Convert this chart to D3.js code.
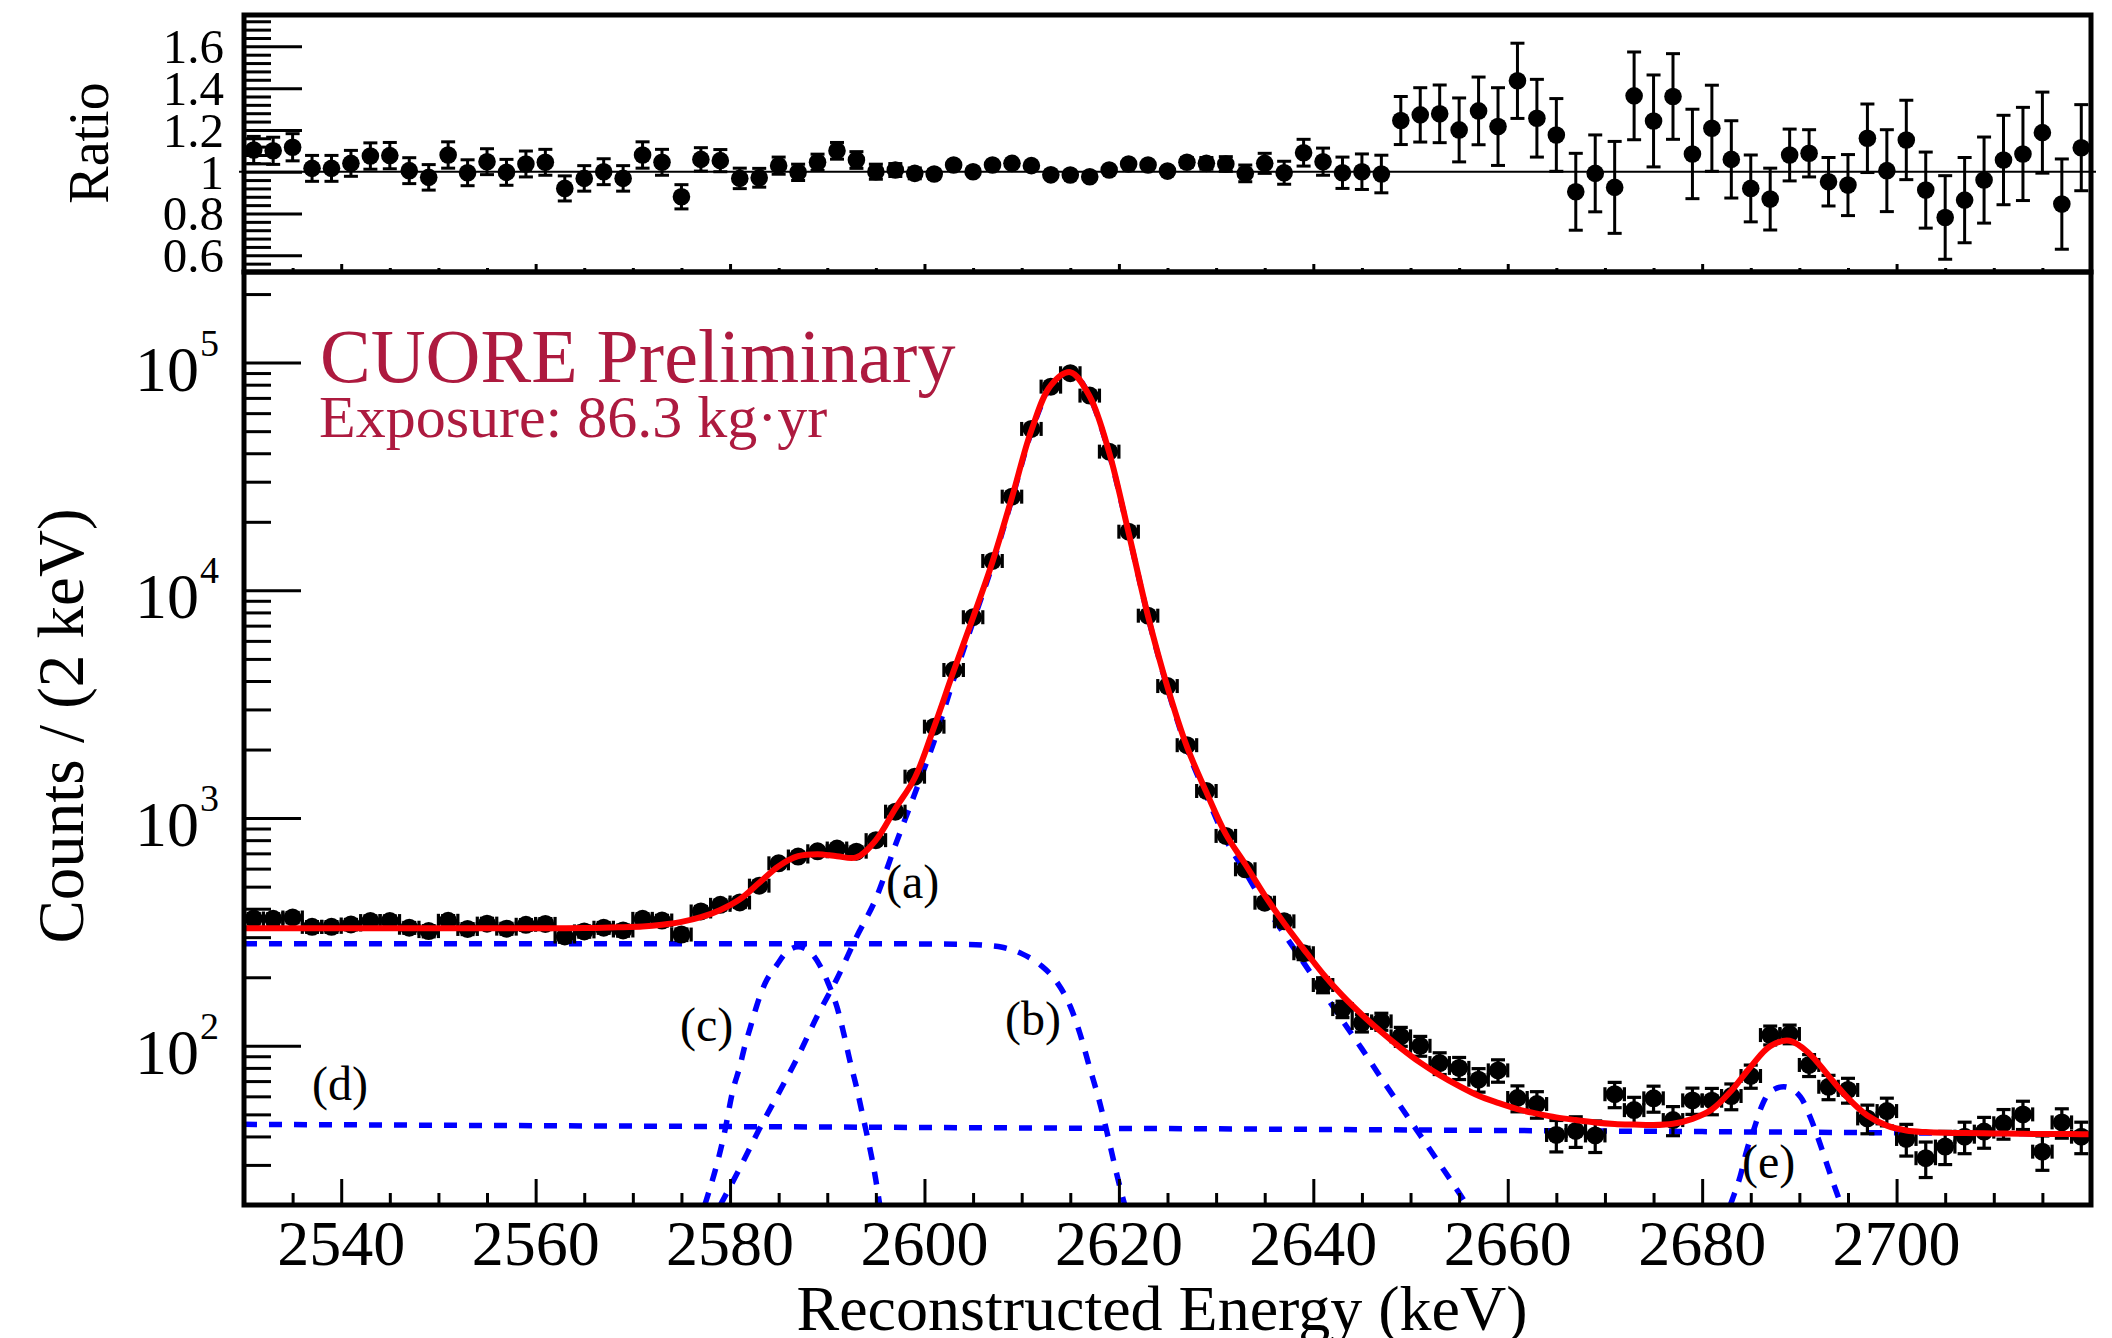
<!DOCTYPE html>
<html><head><meta charset="utf-8">
<script src="https://cdn.jsdelivr.net/npm/d3@7"></script>
<style>body{margin:0;background:#fff;} svg{display:block;} text{font-family:'Liberation Serif','Times New Roman',serif;}</style>
</head><body><svg id="c" width="2112" height="1338"></svg>
<script>
// ---------- DATA ----------
const bins = [2531,2533,2535,2537,2539,2541,2543,2545,2547,2549,2551,2553,2555,2557,2559,2561,2563,2565,2567,2569,2571,2573,2575,2577,2579,2581,2583,2585,2587,2589,2591,2593,2595,2597,2599,2601,2603,2605,2607,2609,2611,2613,2615,2617,2619,2621,2623,2625,2627,2629,2631,2633,2635,2637,2639,2641,2643,2645,2647,2649,2651,2653,2655,2657,2659,2661,2663,2665,2667,2669,2671,2673,2675,2677,2679,2681,2683,2685,2687,2689,2691,2693,2695,2697,2699,2701,2703,2705,2707,2709,2711,2713,2715,2717,2719];
const counts = [362,361,366,333,333,341,353,353,330,319,
354,326,344,327,340,343,302,318,330,321,
361,355,308,389,416,426,505,633,678,715,
735,712,800,1067,1520,2520,4470,7620,13460,25790,
51150,78450,89830,71640,40660,18100,7740,3800,2090,1315,
835,596,425,352,255,185,145,126,128,110,
100,84,80,71,78,59,55.5,40.6,42.3,40.4,
61.3,52.2,58.8,47.2,57.6,57.4,60.2,73.7,111.5,112.7,
82.4,66.1,64.0,48.0,51.7,39.0,32.1,36.1,39.9,42.0,
45.7,50.0,34.3,46.1,39.9];
const countErr = [19,19,19,18,18,18,19,19,18,18,
19,18,19,18,18,19,17,18,18,18,
19,19,18,20,20,21,22,25,26,27,
27,27,28,33,39,50,67,87,116,161,
226,280,300,268,202,135,88,62,46,36,
29,24,21,19,16,14,12,11,11,10.5,
10,9.2,8.9,8.4,8.8,7.7,7.4,6.4,6.5,6.4,
7.8,7.2,7.7,6.9,7.6,7.6,7.8,8.6,10.6,10.6,
9.1,8.1,8,6.9,7.2,6.2,5.7,6,6.3,6.5,
6.8,7.1,5.9,6.8,6.3];
const ratio = [1.104,1.10,1.117,1.016,1.016,1.04,1.075,1.077,1.005,0.973,
1.08,0.995,1.048,0.997,1.037,1.045,0.92,0.968,1.0,0.968,
1.08,1.045,0.88,1.059,1.053,0.968,0.971,1.029,0.997,1.045,
1.10,1.056,1.0,1.008,0.992,0.989,1.032,1.0,1.032,1.04,
1.029,0.985,0.984,0.976,1.008,1.037,1.032,1.003,1.045,1.04,
1.037,0.992,1.04,0.995,1.091,1.048,0.995,1.0,0.989,1.245,
1.272,1.277,1.20,1.291,1.216,1.435,1.256,1.176,0.904,0.992,
0.925,1.363,1.243,1.36,1.085,1.208,1.059,0.92,0.869,1.08,
1.088,0.952,0.936,1.16,1.005,1.152,0.912,0.781,0.864,0.96,
1.056,1.085,1.187,0.845,1.115];
const ratioErr = [0.065,0.065,0.065,0.062,0.062,0.062,0.063,0.063,0.062,0.061,
0.063,0.062,0.062,0.062,0.062,0.062,0.06,0.061,0.062,0.061,
0.063,0.062,0.058,0.056,0.053,0.049,0.045,0.041,0.039,0.039,
0.04,0.04,0.036,0.031,0.026,0.02,0.015,0.012,0.009,0.006,
0.005,0.004,0.003,0.004,0.005,0.007,0.011,0.016,0.022,0.028,
0.035,0.04,0.048,0.055,0.064,0.065,0.075,0.085,0.09,0.115,
0.13,0.138,0.153,0.162,0.186,0.18,0.186,0.174,0.184,0.184,
0.22,0.21,0.22,0.205,0.214,0.206,0.185,0.16,0.148,0.124,
0.113,0.116,0.146,0.164,0.196,0.19,0.182,0.2,0.204,0.206,
0.214,0.223,0.194,0.216,0.206];
// total fit (red) at the bin centres, plus the two range edges
const fitEdgeE = [2530, 2720];
const fitEdgeV = [328, 40.9];
const fitValues = [328,328,328,328,328,328,328,328,328,328,
328,328,328,328,328,328,328,329,330,332,
334,340,350,367,395,440,520,615,680,694,
680,672,800,1100,1500,2520,4420,7600,13350,25600,
50500,79500,90800,71000,40300,17900,7700,3760,2060,1300,
850,627,458,345,266,207,166,137,115,97.8,
84.4,74.4,66.6,60.4,56.2,52.7,50.4,48.5,47.2,46.1,
45.4,45.1,44.9,45.5,47.8,52.5,63.5,81,99.7,105.2,
92.6,73.8,58.9,49.4,44.6,42.5,41.8,41.5,41.4,41.3,
41.2,41.1,41.0,41.0,40.9];
// fit components (blue dashed)
const compA_E = [2579,2581,2583,2585,2587,2589,2591,2593,2595,2597,2599,2601,2603,2605,2607,2609,2611,2613,2615,2617,2619,2621,2623,2625,2627,2629,2631,2633,2635,2637,2639,2641,2643,2645,2647,2649,2651,2653,2655,2655.8];
const compA_V = [20,29,43,62,90,136,197,300,443,760,1280,2180,4060,7280,12990,25200,49700,78700,90300,70900,39900,17800,7650,3710,2010,1255,805,580,415,310,232,173,129,97,72,54,40.5,30.3,22.6,20];
const compB_E = [2530,2560,2590,2600,2604,2606,2608,2610,2612,2613.6,2615,2616,2617,2618,2619,2620,2620.6];
const compB_V = [281,281,281,280,279,277,271,254,225,191,149,113,80,57,38,25,20];
const compC_E = [2577.4,2579.4,2580.3,2581,2581.5,2582.1,2582.7,2583.6,2584.8,2585.8,2587,2588.2,2589.3,2590.1,2591,2591.7,2592.3,2593,2593.6,2595,2595.4];
const compC_V = [20,41,64,81,99,121,148,188,226,258,272,259,223,188,148,113,87,66,50.5,25.7,20];
const compD_E = [2530,2580,2630,2680,2720];
const compD_V = [45.2,44.2,43.2,42.0,41.0];
const compE_E = [2682.9,2683.2,2683.9,2684.6,2685.3,2686.1,2687.0,2688.4,2690.1,2691.1,2692.0,2692.8,2693.5,2694.0,2694.3];
const compE_V = [20,21.7,26.6,34.9,42.7,54.0,62.9,66.1,59.8,48.8,38.5,30.5,24.9,21.7,20];
// ticks / labels
const energyTicks = [2540,2560,2580,2600,2620,2640,2660,2680,2700];
const ratioTicks = [0.6,0.8,1,1.2,1.4,1.6];
const ratioTickLabels = ["0.6","0.8","1","1.2","1.4","1.6"];
const countTicks = [100,1000,10000,100000];
const countTickExp = ["2","3","4","5"];
const compNames = ["(a)","(b)","(c)","(d)","(e)"];

// ---------- LAYOUT ----------
const L=244, R=2091, T1=15, B1=272, T2=272, B2=1205;
const svg = d3.select("#c");
svg.append("rect").attr("width",2112).attr("height",1338).attr("fill","#fff");
const x  = d3.scaleLinear().domain([2530,2720]).range([L,R]);
const yR = d3.scaleLinear().domain([0.52,1.75]).range([B1,T1]);
const yC = d3.scaleLog().domain([20,2.5e5]).range([B2,T2]);

const defs = svg.append("defs");
defs.append("clipPath").attr("id","clip1").append("rect").attr("x",L).attr("y",T1).attr("width",R-L).attr("height",B1-T1);
defs.append("clipPath").attr("id","clip2").append("rect").attr("x",L).attr("y",T2).attr("width",R-L).attr("height",B2-T2);

// ---------- TOP PANEL (ratio) ----------
const g1 = svg.append("g");
g1.append("line").attr("x1",239).attr("x2",2096).attr("y1",yR(1)).attr("y2",yR(1))
  .attr("stroke","#000").attr("stroke-width",2);
const g1c = g1.append("g").attr("clip-path","url(#clip1)");
bins.forEach((E,i)=>{
  const cx=x(E), cy=yR(ratio[i]);
  const yt=yR(ratio[i]+ratioErr[i]), yb=yR(ratio[i]-ratioErr[i]);
  const p = g1c.append("g").attr("stroke","#000").attr("stroke-width",3);
  p.append("line").attr("x1",cx).attr("x2",cx).attr("y1",yt).attr("y2",yb);
  p.append("line").attr("x1",cx-7).attr("x2",cx+7).attr("y1",yt).attr("y2",yt);
  p.append("line").attr("x1",cx-7).attr("x2",cx+7).attr("y1",yb).attr("y2",yb);
  g1c.append("ellipse").attr("cx",cx).attr("cy",cy).attr("rx",8.8).attr("ry",8.8).attr("fill","#000");
});

// ---------- BOTTOM PANEL (counts) ----------
const g2 = svg.append("g").attr("clip-path","url(#clip2)");
const line = d3.line().x(d=>x(d[0])).y(d=>yC(d[1])).curve(d3.curveMonotoneX);
const comps = [[compA_E,compA_V],[compB_E,compB_V],[compC_E,compC_V],[compD_E,compD_V],[compE_E,compE_V]];
comps.forEach(([E,V],k)=>{
  const pts = E.map((e,i)=>[e,V[i]]);
  g2.append("path").attr("d", k===3 ? d3.line().x(d=>x(d[0])).y(d=>yC(d[1]))(pts) : line(pts))
    .attr("fill","none").attr("stroke","#0000ff").attr("stroke-width",5.5)
    .attr("stroke-dasharray","13 12");
});
bins.forEach((E,i)=>{
  const cx=x(E), cy=yC(counts[i]);
  const yt=yC(counts[i]+countErr[i]), yb=yC(counts[i]-countErr[i]);
  const xl=x(E-1), xr=x(E+1);
  const p = g2.append("g").attr("stroke","#000").attr("stroke-width",3.2);
  p.append("line").attr("x1",cx).attr("x2",cx).attr("y1",yt).attr("y2",yb);
  p.append("line").attr("x1",cx-7).attr("x2",cx+7).attr("y1",yt).attr("y2",yt);
  p.append("line").attr("x1",cx-7).attr("x2",cx+7).attr("y1",yb).attr("y2",yb);
  p.append("line").attr("x1",xl).attr("x2",xr).attr("y1",cy).attr("y2",cy);
  p.append("line").attr("x1",xl).attr("x2",xl).attr("y1",cy-7).attr("y2",cy+7);
  p.append("line").attr("x1",xr).attr("x2",xr).attr("y1",cy-7).attr("y2",cy+7);
  g2.append("circle").attr("cx",cx).attr("cy",cy).attr("r",9).attr("fill","#000");
});
const fitPts = [[fitEdgeE[0],fitEdgeV[0]]].concat(bins.map((e,i)=>[e,fitValues[i]])).concat([[fitEdgeE[1],fitEdgeV[1]]]);
const fitLine = d3.line().x(d=>x(d[0])).y(d=>yC(d[1])).curve(d3.curveCatmullRom.alpha(0.5));
g2.append("path").attr("d",fitLine(fitPts)).attr("fill","none").attr("stroke","#ff0000").attr("stroke-width",6);

// component labels
const labelPos = [[886,898],[1005,1035],[680,1041],[312,1100],[1742,1178]];
compNames.forEach((t,i)=>{
  svg.append("text").attr("x",labelPos[i][0]).attr("y",labelPos[i][1]).attr("font-size",48).attr("fill","#000").text(t);
});

// CUORE text
svg.append("text").attr("x",320).attr("y",382).attr("font-size",76).attr("fill","#ad1a3f").text("CUORE Preliminary");
svg.append("text").attr("x",319).attr("y",437).attr("font-size",60).attr("fill","#ad1a3f").text("Exposure: 86.3 kg\u00b7yr");

// ---------- AXES ----------
function styleAxis(g){ g.select(".domain").remove(); g.selectAll(".tick line").attr("stroke","#000").attr("stroke-width",3); g.selectAll(".tick text").remove(); }
const minorE = d3.range(2535,2720,5).filter(v=>v%20!==0);
// bottom x axis
svg.append("g").attr("transform",`translate(0,${B2})`).call(d3.axisBottom(x).tickValues(energyTicks).tickSize(-26).tickFormat("")).call(styleAxis);
svg.append("g").attr("transform",`translate(0,${B2})`).call(d3.axisBottom(x).tickValues(minorE).tickSize(-12).tickFormat("")).call(styleAxis);
// top panel x axis (no labels)
svg.append("g").attr("transform",`translate(0,${B1})`).call(d3.axisBottom(x).tickValues(energyTicks).tickSize(-8).tickFormat("")).call(styleAxis);
svg.append("g").attr("transform",`translate(0,${B1})`).call(d3.axisBottom(x).tickValues(minorE).tickSize(-4).tickFormat("")).call(styleAxis);
// top panel y axis
const minorR = d3.range(14,44).map(k=>+(k*0.04).toFixed(2)).filter(v=>v>0.52 && v<1.75 && !ratioTicks.some(t=>Math.abs(t-v)<1e-6));
svg.append("g").attr("transform",`translate(${L},0)`).call(d3.axisLeft(yR).tickValues(ratioTicks).tickSize(-58).tickFormat("")).call(styleAxis);
svg.append("g").attr("transform",`translate(${L},0)`).call(d3.axisLeft(yR).tickValues(minorR).tickSize(-27).tickFormat("")).call(styleAxis);
// bottom panel y axis
const minorC = [];
[10,100,1000,10000,100000].forEach(d=>{ for(let m=2;m<=9;m++){ const v=m*d; if(v>=20 && v<=2.5e5) minorC.push(v);} });
svg.append("g").attr("transform",`translate(${L},0)`).call(d3.axisLeft(yC).tickValues(countTicks).tickSize(-57).tickFormat("")).call(styleAxis);
svg.append("g").attr("transform",`translate(${L},0)`).call(d3.axisLeft(yC).tickValues(minorC).tickSize(-27).tickFormat("")).call(styleAxis);

// tick labels
energyTicks.forEach(v=>{
  svg.append("text").attr("x",x(v)).attr("y",1265).attr("text-anchor","middle").attr("font-size",64).text(v);
});
ratioTicks.forEach((v,i)=>{
  svg.append("text").attr("x",224).attr("y",yR(v)+17).attr("text-anchor","end").attr("font-size",49).text(ratioTickLabels[i]);
});
countTicks.forEach((v,i)=>{
  const yy=yC(v);
  svg.append("text").attr("x",199).attr("y",yy+28).attr("text-anchor","end").attr("font-size",64).text("10");
  svg.append("text").attr("x",200).attr("y",yy-7).attr("font-size",38).text(countTickExp[i]);
});

// axis titles
svg.append("text").attr("x",1162).attr("y",1330).attr("text-anchor","middle").attr("font-size",64).text("Reconstructed Energy (keV)");
svg.append("text").attr("transform","translate(83,726) rotate(-90)").attr("text-anchor","middle").attr("font-size",65).text("Counts / (2 keV)");
svg.append("text").attr("transform","translate(108,143) rotate(-90)").attr("text-anchor","middle").attr("font-size",56).text("Ratio");

// frames
svg.append("rect").attr("x",L).attr("y",T1).attr("width",R-L).attr("height",B1-T1).attr("fill","none").attr("stroke","#000").attr("stroke-width",5);
svg.append("rect").attr("x",L).attr("y",T2).attr("width",R-L).attr("height",B2-T2).attr("fill","none").attr("stroke","#000").attr("stroke-width",5);
</script></body></html>
